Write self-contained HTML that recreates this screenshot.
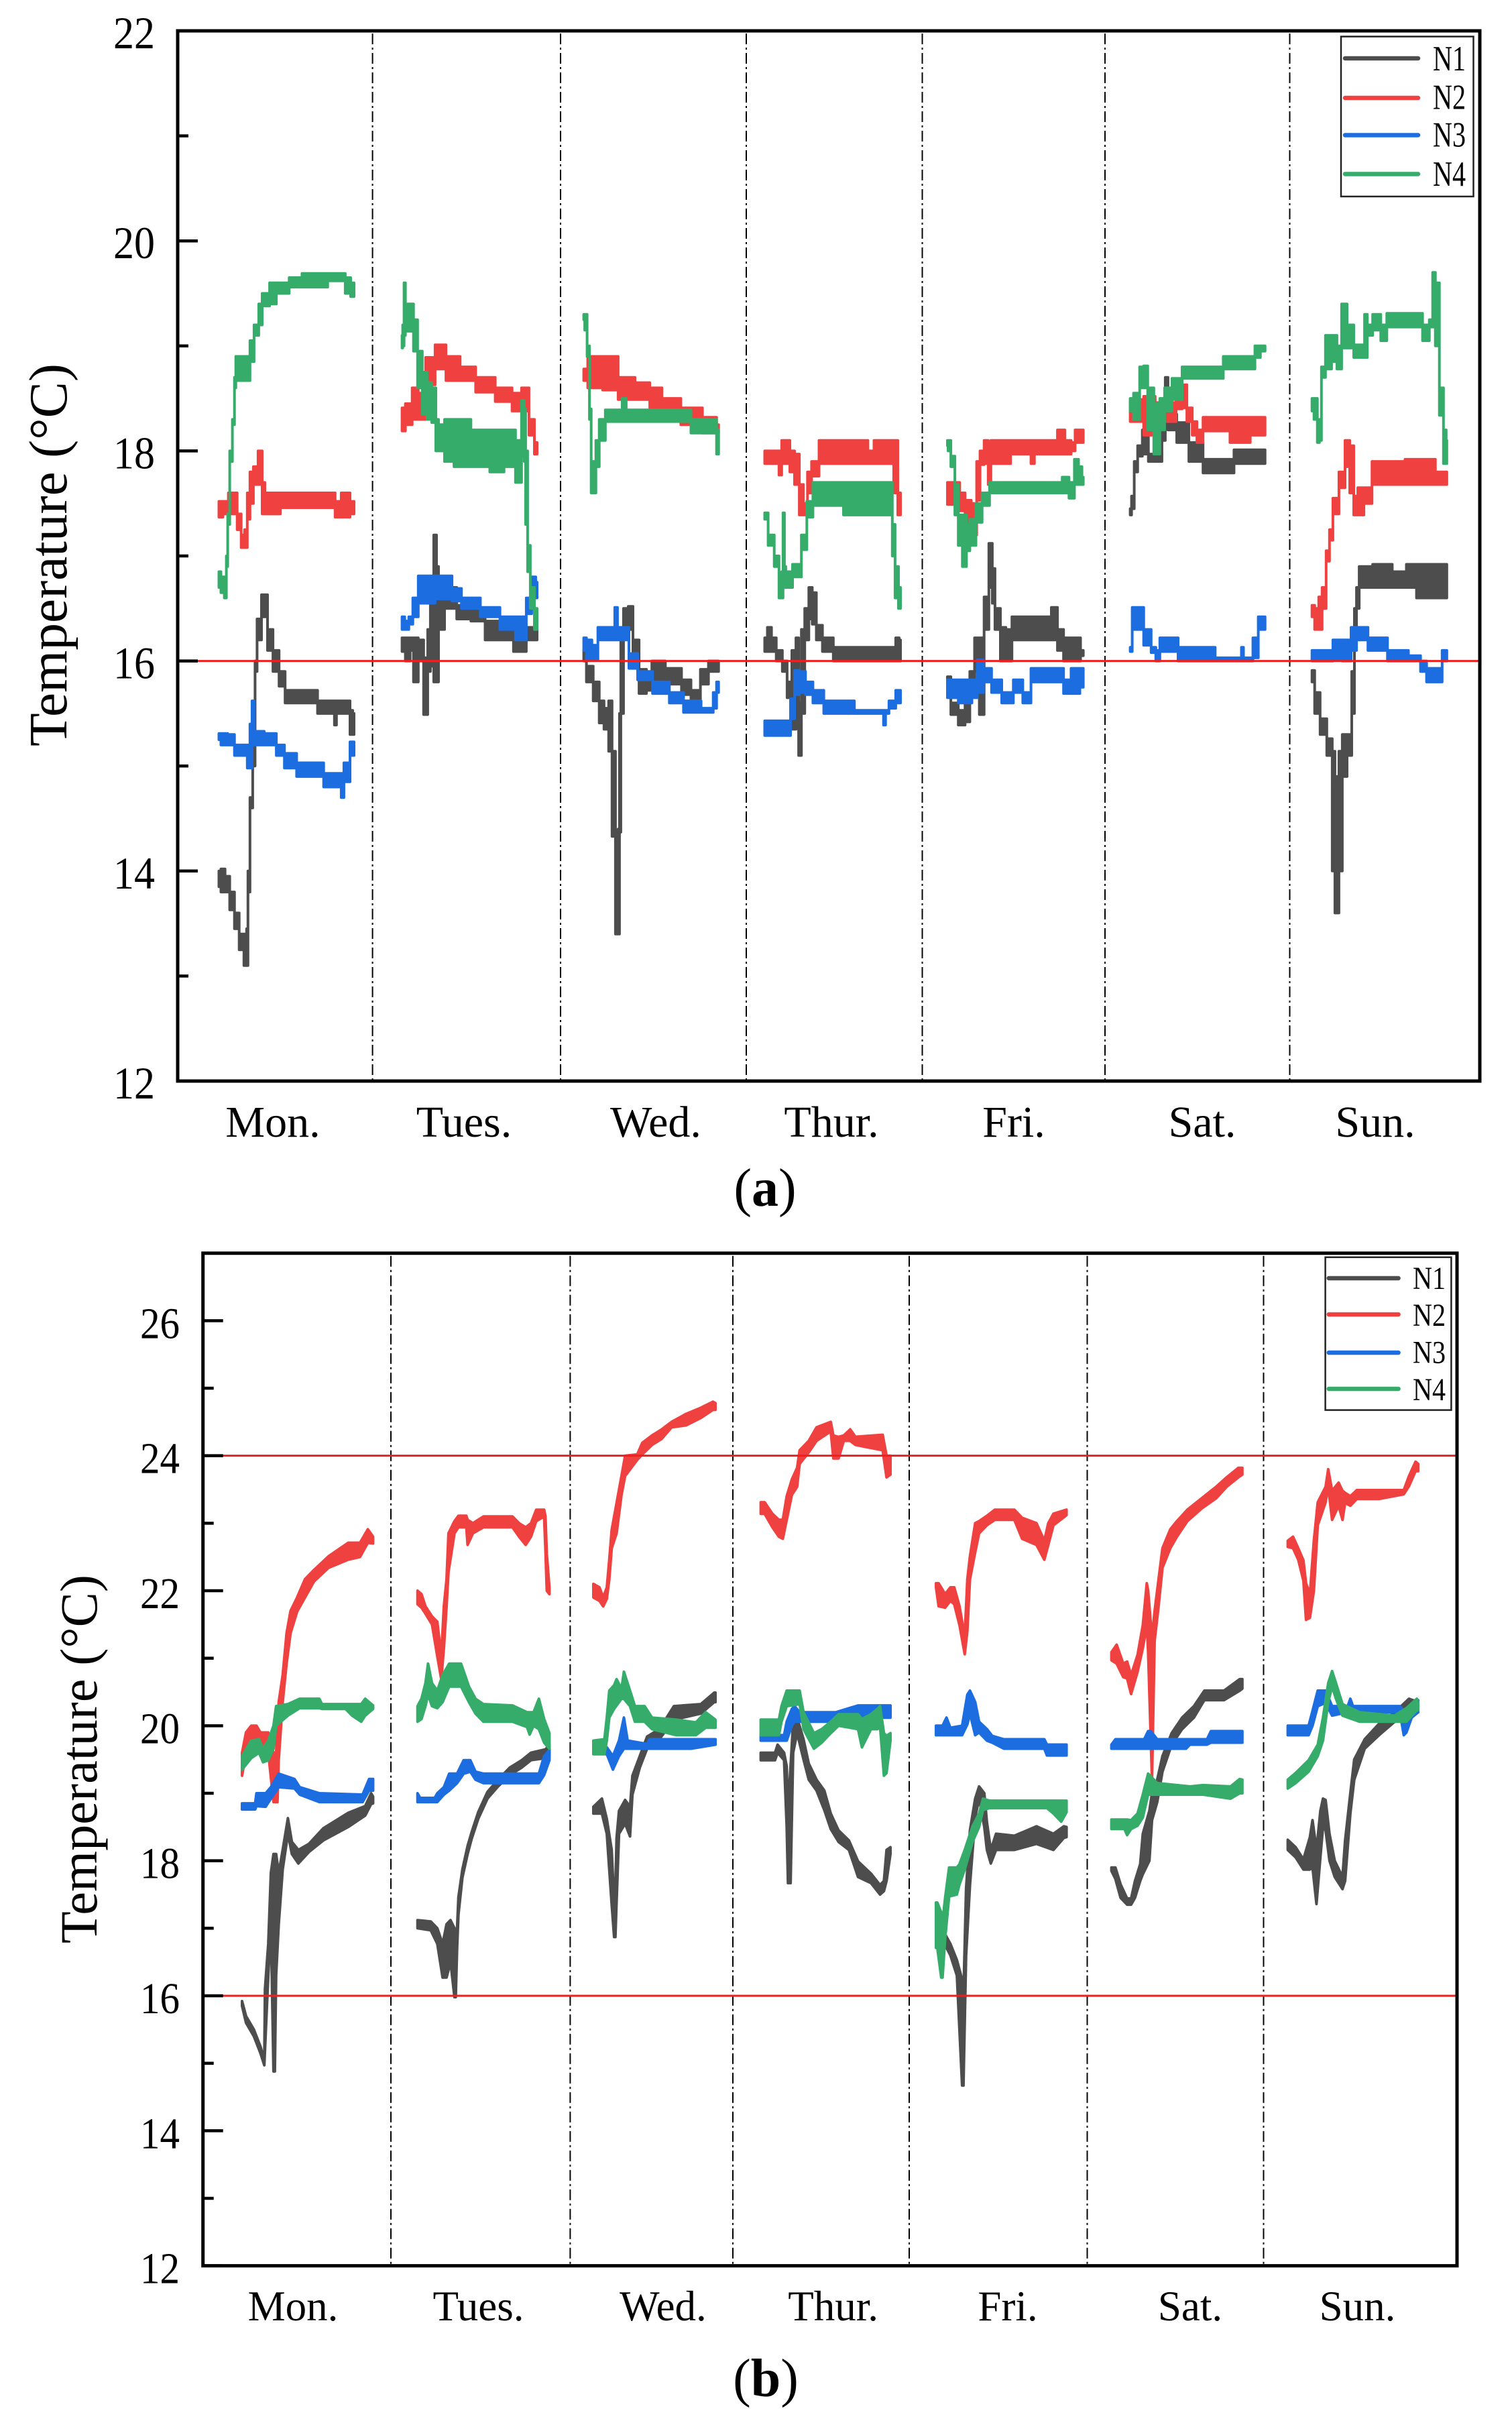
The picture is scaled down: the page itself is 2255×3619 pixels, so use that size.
<!DOCTYPE html>
<html lang="en">
<head>
<meta charset="utf-8">
<title>Temperature by day, panels a and b</title>
<style>
html,body{margin:0;padding:0;background:#fff;}
svg{display:block;font-family:"Liberation Serif",serif;}
</style>
</head>
<body>
<svg id="figure" xmlns="http://www.w3.org/2000/svg" width="2255" height="3619" viewBox="0 0 2255 3619">
  <rect x="0" y="0" width="2255" height="3619" fill="#fff"/>
  <text transform="translate(99,1113) rotate(-90)" font-size="80" textLength="571" lengthAdjust="spacingAndGlyphs" fill="#000">Temperature (°C)</text>
  <text transform="translate(144,2898) rotate(-90)" font-size="78" textLength="550" lengthAdjust="spacingAndGlyphs" fill="#000">Temperature (°C)</text>
  <text x="1141" y="1798" font-size="80" text-anchor="middle" fill="#000">(<tspan font-weight="bold">a</tspan>)</text>
  <text x="1142" y="3573" font-size="80" text-anchor="middle" fill="#000">(<tspan font-weight="bold">b</tspan>)</text>
</svg>
<script>
// Categories and axis ticks
const dayLabels = ["Mon.", "Tues.", "Wed.", "Thur.", "Fri.", "Sat.", "Sun."];
const dayKeys = ["mon", "tue", "wed", "thu", "fri", "sat", "sun"];
const seriesNames = ["N1", "N2", "N3", "N4"];
const panelAMajorTicks = [12, 14, 16, 18, 20, 22];
const panelAMinorTicks = [13, 15, 17, 19, 21];
const panelBMajorTicks = [12, 14, 16, 18, 20, 22, 24, 26];
const panelBMinorTicks = [13, 15, 17, 19, 21, 23, 25];
const panelALimits = [16];
const panelBLimits = [16, 24];

// Each sample: [percent of the day's logging period, lowest °C, highest °C]
const aN1 = [
[[0,13.85,14.0],[3,13.8,14.02],[6,13.8,13.95],[10,13.63,13.8],[13,13.45,13.6],[17,13.25,13.4],[20,13.1,13.4],[21,13.1,13.45],[22,13.8,14],[24,14.6,14.7],[26,15,15.6],[27.5,15.9,16],[29,16.2,16.4],[34,16.42,16.63],[38,16.1,16.3],[42,15.9,16.1],[47,15.76,15.9],[51,15.6,15.72],[72,15.6,15.72],[74,15.5,15.62],[85,15.5,15.62],[86,15.39,15.62],[88,15.5,15.62],[96,15.5,15.62],[98,15.3,15.53],[100,15.3,15.5]],
[[0,16.09,16.22],[5,16.0,16.22],[7,16.1,16.22],[10,15.8,16.22],[14,16,16.2],[18,15.49,16.03],[20,15.9,16.3],[22,15.95,16.75],[25,15.8,17.2],[26,15.8,16.9],[28,16.3,16.7],[35,16.5,16.7],[46,16.4,16.53],[56,16.38,16.5],[67,16.2,16.38],[78,16.2,16.3],[87,16.09,16.22],[90,16.09,16.2],[94,16.2,16.32],[100,16.2,16.32]],
[[0,16,16.1],[4,15.8,15.95],[10,15.62,15.8],[13,15.41,15.62],[17,15.35,15.55],[20,15.14,15.62],[22,14.33,15.14],[25,13.4,14.33],[26,13.4,14.4],[27,14.37,15.5],[28,15.5,16.3],[31,16.3,16.5],[35,16.3,16.52],[38,16,16.2],[44,15.69,15.92],[49,15.72,15.85],[52,15.82,16],[69,15.78,15.93],[76,15.68,15.82],[83,15.6,15.72],[90,15.78,15.92],[95,15.9,16],[100,15.9,16]],
[[0,16.09,16.22],[4,16.09,16.32],[6,16.09,16.22],[11,16,16.1],[15,15.9,16],[18,15.65,15.8],[22,15.35,16.1],[24,15.6,16.22],[26,15.1,15.6],[28,15.5,16.3],[31,16.2,16.5],[34,16.4,16.7],[36,16.35,16.65],[40,16.2,16.34],[45,16.09,16.22],[56,16,16.13],[95,16,16.13],[98,16,16.22],[100,16,16.2]],
[[0,15.7,15.85],[5,15.49,15.6],[11,15.39,15.53],[15,15.42,15.6],[18,15.7,15.9],[22,15.9,16.22],[25,15.49,16.22],[29,16.3,16.61],[32,16.7,17.12],[34,16.55,16.88],[36,16.3,16.5],[42,16,16.32],[44,16,16.3],[51,16.2,16.42],[75,16.2,16.42],[78,16.2,16.51],[84,16.1,16.3],[87,16,16.22],[96,16,16.22],[100,16.05,16.1]],
[[0,17.39,17.45],[2,17.45,17.57],[4,17.8,17.9],[7,17.95,18.05],[11,17.97,18.2],[16,17.9,17.97],[22,17.9,18.2],[25,18.1,18.4],[27,18.27,18.7],[29,18.2,18.5],[31,18.2,18.35],[38,18.08,18.27],[49,17.9,18.08],[59,17.79,17.92],[75,17.79,17.92],[79,17.88,18.01],[100,17.88,18.01]],
[[0,15.8,15.91],[4,15.5,15.7],[8,15.3,15.45],[14,15.1,15.26],[16,14,15.14],[18,13.6,14.8],[19,13.6,14.9],[21,14,15.14],[24,14.9,15.3],[28,15.1,15.3],[31,15.5,15.9],[32,16.3,16.5],[34,16.5,16.7],[36,16.7,16.9],[54,16.7,16.92],[65,16.7,16.85],[75,16.7,16.92],[80,16.6,16.92],[100,16.6,16.92]]
];
const aN2 = [
[[0,17.37,17.52],[6,17.4,17.52],[8,17.4,17.6],[12,17.4,17.6],[15,17.25,17.4],[18,17.08,17.2],[20,17.08,17.25],[22,17.35,17.6],[24,17.5,17.8],[27,17.68,17.85],[31,17.68,18.0],[33,17.4,17.7],[35,17.4,17.6],[44,17.4,17.6],[47,17.46,17.6],[85,17.46,17.6],[87,17.37,17.52],[94,17.37,17.6],[100,17.4,17.52]],
[[0,18.19,18.41],[5,18.25,18.45],[10,18.3,18.6],[14,18.3,18.55],[21,18.63,18.89],[28,18.78,19.01],[37,18.67,18.9],[49,18.67,18.8],[60,18.56,18.7],[78,18.47,18.6],[85,18.38,18.55],[92,18.38,18.6],[96,18.15,18.3],[100,17.97,18.08]],
[[0,18.67,18.78],[6,18.6,18.9],[22,18.58,18.9],[29,18.49,18.7],[47,18.49,18.65],[51,18.41,18.6],[65,18.41,18.5],[79,18.25,18.41],[97,18.17,18.32],[100,18.17,18.25]],
[[0,17.88,18.0],[10,17.88,18],[11,17.77,18],[14,17.88,18.1],[17,17.88,18.1],[20,17.8,18],[24,17.68,17.97],[27,17.39,17.68],[30,17.39,17.5],[33,17.6,17.8],[36,17.76,17.9],[44,17.88,18.1],[75,17.88,18.1],[77,17.88,18],[84,17.88,18.1],[94,17.88,18.1],[96,17.6,18.1],[100,17.39,17.6]],
[[0,17.49,17.7],[7,17.49,17.7],[11,17.43,17.6],[15,17.32,17.53],[20,17.2,17.5],[23,17.53,17.9],[25,17.87,18],[29,17.88,18.1],[31,17.68,18],[33,17.88,18.1],[60,17.97,18.1],[63,17.88,18.1],[65,17.97,18.1],[78,17.97,18.1],[84,17.97,18.2],[89,17.97,18.1],[93,18.0,18.08],[95,18.08,18.2],[100,18.08,18.2]],
[[0,18.28,18.49],[7,18.28,18.49],[13,18.15,18.52],[24,18.28,18.46],[31,18.28,18.46],[37,18.4,18.6],[40,18.41,18.63],[44,18.28,18.41],[48,18.15,18.28],[51,18.08,18.2],[57,18.19,18.32],[70,18.19,18.32],[78,18.08,18.32],[100,18.15,18.32]],
[[0,16.42,16.53],[4,16.3,16.5],[6,16.3,16.61],[9,16.5,16.7],[12,16.95,17.05],[14,17.15,17.25],[17,17.4,17.55],[23,17.65,17.8],[26,17.85,18.1],[30,17.6,18.05],[32,17.39,17.57],[36,17.39,17.65],[41,17.5,17.65],[48,17.68,17.9],[90,17.68,17.92],[93,17.68,17.8],[100,17.68,17.8]]
];
const aN3 = [
[[0,15.25,15.31],[3,15.2,15.31],[10,15.2,15.3],[13,15.1,15.2],[20,15.1,15.2],[22,14.98,15.2],[24,14.98,15.4],[25,15.2,15.62],[27,15.2,15.33],[40,15.2,15.31],[45,15.1,15.2],[52,14.98,15.12],[63,14.9,15.03],[74,14.9,15.03],[81,14.8,14.93],[90,14.8,14.93],[91,14.7,14.93],[94,14.85,15.03],[100,15.1,15.23]],
[[0,16.3,16.42],[4,16.3,16.38],[6,16.35,16.42],[10,16.42,16.6],[14,16.55,16.81],[35,16.59,16.81],[39,16.57,16.69],[49,16.5,16.6],[67,16.42,16.51],[78,16.3,16.42],[90,16.2,16.42],[94,16.45,16.6],[98,16.65,16.8],[100,16.6,16.75]],
[[0,16.1,16.22],[4,16.01,16.2],[8,16.01,16.15],[13,16.2,16.32],[22,16.2,16.32],[24,16.2,16.51],[26,16.2,16.32],[31,16.2,16.32],[36,15.93,16.07],[44,15.82,15.9],[58,15.69,15.8],[69,15.6,15.7],[79,15.51,15.62],[95,15.51,15.55],[97,15.55,15.7],[100,15.7,15.8]],
[[0,15.29,15.43],[18,15.29,15.43],[20,15.45,15.64],[24,15.68,15.91],[27,15.7,15.9],[33,15.68,15.8],[38,15.6,15.72],[49,15.5,15.62],[65,15.5,15.62],[67,15.5,15.53],[87,15.5,15.53],[88,15.39,15.53],[90,15.5,15.53],[93,15.55,15.62],[100,15.6,15.72]],
[[0,15.65,15.82],[16,15.6,15.82],[20,15.65,15.82],[24,15.7,16.01],[29,15.8,15.93],[36,15.7,15.82],[44,15.6,15.7],[53,15.7,15.82],[58,15.6,15.7],[65,15.8,15.93],[84,15.8,15.93],[87,15.69,15.82],[95,15.69,15.93],[100,15.75,15.93]],
[[0,16.09,16.13],[3,16.3,16.51],[7,16.3,16.51],[13,16.15,16.3],[18,16.08,16.13],[20,16,16.1],[24,16.09,16.22],[33,16.09,16.22],[38,16,16.13],[62,16,16.13],[64,16,16.03],[82,16,16.03],[83,16,16.13],[85,16,16.03],[90,16,16.03],[92,16.03,16.22],[98,16.3,16.42],[100,16.3,16.42]],
[[0,16,16.1],[14,16,16.1],[17,16.02,16.2],[28,16,16.2],[30,16.1,16.32],[36,16.2,16.32],[47,16.1,16.22],[65,16,16.1],[78,16,16.05],[83,15.9,16],[87,15.8,15.93],[94,15.8,15.93],[99,16,16.1],[100,16,16.1]]
];
const aN4 = [
[[0,16.7,16.85],[3,16.65,16.8],[5,16.6,16.65],[6,16.9,17],[7,17.3,17.4],[9,17.9,18],[11,18.25,18.3],[12,18.6,18.7],[13,18.67,18.9],[22,18.67,18.9],[24,18.85,19.05],[28,19.1,19.2],[31,19.2,19.4],[33,19.38,19.5],[42,19.4,19.6],[43,19.5,19.6],[61,19.56,19.65],[62,19.56,19.69],[80,19.56,19.69],[81,19.62,19.69],[92,19.62,19.69],[95,19.5,19.65],[100,19.47,19.6]],
[[0,18.98,19.1],[1,19.0,19.2],[2,19.1,19.6],[3,19.15,19.3],[5,19.14,19.4],[7,19.14,19.4],[10,18.95,19.25],[13,18.6,18.95],[17,18.35,18.75],[20,18.3,18.65],[24,18.27,18.6],[26,18.0,18.3],[28,18.0,18.25],[35,17.9,18.3],[42,17.85,18.3],[60,17.85,18.2],[70,17.8,18.2],[81,17.85,18.2],[87,17.7,18.1],[90,17.95,18.48],[91,17.9,18.4],[92,17.3,18],[94,16.85,17.1],[96,16.5,16.7],[100,16.3,16.5]],
[[0,19.25,19.3],[1.5,19.15,19.3],[3.5,18.9,19],[5,18.3,18.4],[6,17.6,17.85],[8,17.6,17.9],[10,17.85,18.1],[13,18.1,18.3],[19,18.28,18.39],[27,18.28,18.39],[30,18.28,18.5],[33,18.28,18.39],[79,18.28,18.39],[80,18.17,18.3],[97,18.17,18.3],[100,17.97,18.2]],
[[0,17.35,17.41],[5,17.1,17.2],[9,16.9,17],[12,16.6,16.8],[13,16.6,16.85],[14,16.7,17.41],[15,16.7,16.9],[16,16.7,16.85],[25,16.8,16.92],[29,17.06,17.2],[33,17.37,17.52],[38,17.48,17.7],[49,17.48,17.7],[67,17.39,17.7],[93,17.39,17.7],[95,17.0,17.3],[97,16.6,16.9],[100,16.5,16.7]],
[[0,18.05,18.1],[1,18.0,18.1],[4,17.85,17.95],[7,17.39,17.68],[9,17.1,17.39],[13,16.9,17.39],[15,17.05,17.3],[18,17.1,17.35],[24,17.32,17.5],[27,17.48,17.6],[35,17.6,17.7],[82,17.6,17.7],[87,17.6,17.75],[92,17.55,17.7],[95,17.68,17.92],[98,17.68,17.85],[100,17.68,17.75]],
[[0,18.38,18.5],[5,18.3,18.55],[9,18.6,18.8],[11,18.6,18.81],[15,18.2,18.6],[20,17.97,18.45],[24,18.2,18.5],[27,18.38,18.6],[35,18.49,18.69],[42,18.69,18.8],[68,18.69,18.8],[70,18.78,18.9],[92,18.78,18.9],[93,18.89,19],[100,18.95,19]],
[[0,18.38,18.5],[3,18.3,18.5],[5,18.08,18.27],[6,18.1,18.3],[8,18.7,18.8],[12,18.78,19.1],[17,18.85,19.1],[20,18.78,19],[24,18.98,19.4],[28,18.98,19.2],[34,18.89,19.01],[38,18.89,19.01],[40,18.89,19.3],[42,19.1,19.2],[48,19.15,19.3],[54,19.05,19.2],[57,19.18,19.31],[79,19.18,19.31],[85,19.05,19.2],[89,19.18,19.25],[90,19.18,19.7],[93,19.0,19.6],[96,18.34,18.6],[99,17.88,18.2],[100,17.88,18.1]]
];
const bN1 = [
[[0,15.85,15.92],[3,15.6,15.7],[9,15.4,15.5],[14,15.15,15.25],[17,14.97,15.05],[17.5,15.2,16.1],[20,16.3,16.77],[22,17.06,17.82],[24,14.88,18.1],[25,14.88,18.1],[26,16.3,18.1],[28,17.06,17.82],[31,17.87,18.16],[35,18.4,18.63],[38,18.1,18.28],[43,17.96,18.16],[51,18.13,18.25],[62,18.3,18.48],[81,18.5,18.71],[94,18.67,18.81],[98.5,18.84,19],[100,18.85,18.95]],
[[0,17,17.12],[10,16.97,17.1],[15,16.77,17],[19,16.27,16.77],[22,16.27,17.06],[25,16.5,17.12],[28,15.98,17],[29,15.98,16.8],[30,16.7,17],[31,17.2,17.46],[34,17.75,17.87],[38,18.1,18.22],[41,18.32,18.42],[46,18.62,18.72],[53,18.92,19.02],[61,19.1,19.2],[70,19.27,19.38],[79,19.38,19.49],[86,19.49,19.6],[97,19.52,19.65],[100,19.55,19.72]],
[[0,18.7,18.8],[7,18.7,18.92],[11,18.4,18.62],[15,17.35,18.16],[17,16.87,17.35],[18,16.87,17.6],[19,17.4,18.34],[21,18.4,18.74],[26,18.55,18.9],[30,18.36,18.8],[32,18.98,19.26],[38,19.38,19.55],[44,19.66,19.84],[54,19.8,19.95],[66,20.09,20.29],[88,20.18,20.32],[99,20.35,20.49],[100,20.35,20.49]],
[[0,19.49,19.6],[11,19.49,19.6],[13,19.6,19.72],[18,19.49,19.6],[20,18.5,19.4],[21,17.67,18.74],[23,17.67,19.4],[25,19.6,20.06],[28,19.89,20.12],[33,19.5,19.8],[37,19.2,19.44],[43,19.04,19.2],[49,18.75,19.04],[54,18.47,18.7],[60,18.28,18.45],[68,18.16,18.3],[75,17.76,17.99],[85,17.67,17.81],[92,17.5,17.64],[95,17.55,17.7],[97,17.7,18.16],[100,18.1,18.2]],
[[0,16.77,16.91],[7,16.75,16.91],[11,16.6,16.77],[16,16.3,16.53],[20,14.67,16.24],[21,14.67,16.0],[23,16.59,17.58],[26,17.64,18.45],[30,18.64,18.92],[33,18.92,19.1],[37,18.5,19.0],[39,18.16,18.57],[42,17.96,18.16],[46,18.16,18.4],[60,18.16,18.37],[77,18.25,18.51],[90,18.16,18.4],[98,18.34,18.51],[100,18.35,18.5]],
[[0,17.85,17.9],[3,17.73,17.9],[7,17.45,17.65],[12,17.35,17.44],[15,17.35,17.44],[18,17.45,17.7],[22,17.7,17.95],[24,17.8,18.4],[29,18,18.74],[31,18.6,19],[35,18.87,19.2],[39,19.32,19.55],[46,19.72,19.89],[54,19.95,20.12],[63,20.12,20.29],[71,20.38,20.52],[86,20.38,20.52],[98,20.52,20.69],[100,20.55,20.69]],
[[0,18.16,18.31],[6,18.05,18.2],[12,17.87,18.02],[17,17.87,18.35],[19,17.9,18.6],[22,17.36,18.16],[25,18.05,18.74],[27,18.5,18.92],[29,18.45,18.9],[32,18.0,18.4],[36,17.76,18.0],[42,17.58,17.76],[44,17.7,18.3],[48,18.7,19.0],[51,19.2,19.5],[59,19.66,19.8],[70,19.86,20.03],[82,20.06,20.2],[93,20.12,20.4],[100,20.2,20.35]]
];
const bN2 = [
[[0,19.26,19.6],[3,19.6,19.9],[7,19.72,20],[11,19.72,20],[14,19.66,19.9],[20,19.6,19.9],[24,18.87,19.6],[26,18.87,19.6],[27,18.87,20.0],[28,19.5,20.35],[31,20.35,20.75],[34,20.92,21.37],[37,21.37,21.7],[42,21.69,21.9],[48,21.9,22.17],[55,22.14,22.31],[66,22.34,22.51],[81,22.46,22.71],[90,22.5,22.71],[96,22.71,22.91],[100,22.7,22.8]],
[[0,21.8,22],[3,21.75,21.95],[6,21.66,21.77],[11,21.5,21.62],[15,21.03,21.54],[18,20.69,21.03],[20,21.15,21.77],[22,21.77,22.17],[23.5,22.28,22.85],[28,22.85,23.03],[31,22.94,23.11],[37,22.94,23.11],[38,22.68,23.05],[42,22.85,23],[50,22.94,23.1],[72,22.94,23.1],[77,22.8,23],[82,22.68,22.94],[86,22.8,23],[90,23.03,23.2],[96,23.1,23.2],[97,22.6,23.1],[98,22,22.54],[100,21.95,22.05]],
[[0,21.9,22.1],[5,21.85,22.05],[8,21.77,21.9],[11,21.88,22.05],[13,22.17,22.46],[15,22.63,22.9],[19,22.85,23.3],[23,23.42,23.7],[26,23.7,24],[36,23.94,24.02],[40,24.02,24.19],[48,24.16,24.3],[56,24.25,24.39],[64,24.42,24.5],[76,24.45,24.62],[88,24.56,24.71],[98,24.68,24.8],[100,24.68,24.78]],
[[0,23.14,23.31],[3,23.14,23.31],[9,22.94,23.14],[14,22.8,23.05],[17,22.77,23.05],[20,23.05,23.4],[24,23.42,23.65],[28,23.54,23.82],[30,23.88,24.08],[37,24.05,24.22],[43,24.22,24.42],[54,24.36,24.5],[56,23.96,24.3],[60,23.96,24.28],[64,24.22,24.3],[69,24.22,24.39],[73,24.16,24.28],[94,24.08,24.31],[97,23.68,24],[100,23.72,24]],
[[0,22.05,22.11],[2,21.77,22.11],[7,21.75,21.95],[11,21.85,22.05],[14,21.8,22.05],[18,21.49,21.77],[22,21.06,21.32],[24,21.4,22.17],[26,22.17,22.51],[30,22.57,23],[33,22.85,23.03],[39,22.97,23.11],[45,23.05,23.2],[60,23.05,23.2],[66,22.77,23.08],[77,22.68,23],[83,22.46,22.74],[86,22.68,23],[90,22.97,23.14],[100,23.12,23.2]],
[[0,20.97,21.09],[4,20.92,21.2],[9,20.72,20.92],[12,20.7,20.95],[15,20.47,20.75],[20,20.8,21.05],[24,21.15,21.49],[27,21.49,22.11],[28,21.1,22.0],[31,19.2,21.3],[33,21.26,21.7],[36,21.77,22.17],[39,22.34,22.63],[45,22.63,22.91],[50,22.8,23.03],[58,23.03,23.2],[69,23.22,23.37],[80,23.37,23.54],[88,23.54,23.68],[97,23.68,23.82],[100,23.72,23.82]],
[[0,22.65,22.74],[4,22.63,22.8],[8,22.46,22.63],[12,22.15,22.45],[14,21.57,22.11],[17,21.6,21.95],[20,22,22.74],[23,22.97,23.31],[29,23.31,23.54],[31,23.54,23.8],[34,23.05,23.48],[39,23.26,23.6],[42,23.05,23.48],[44,23.3,23.45],[48,23.26,23.4],[53,23.36,23.49],[70,23.36,23.49],[89,23.43,23.49],[93,23.55,23.7],[98,23.77,23.91],[100,23.77,23.88]]
];
const bN3 = [
[[0,18.76,18.85],[10,18.76,18.85],[11,18.81,19],[18,18.8,19],[22,18.92,19.09],[28,19.09,19.29],[40,19.07,19.21],[44,18.98,19.09],[59,18.87,19],[92,18.87,18.98],[97,19.04,19.21],[100,19.04,19.21]],
[[0,18.87,19],[2,18.87,18.93],[13,18.87,18.93],[15,18.87,19],[20,18.98,19.09],[24,19.04,19.29],[30,19.15,19.29],[35,19.29,19.49],[40,19.32,19.49],[44,19.2,19.32],[50,19.15,19.29],[92,19.15,19.29],[96,19.27,19.55],[100,19.49,19.64]],
[[0,19.58,19.68],[11,19.58,19.68],[16,19.35,19.55],[21,19.55,19.78],[25,19.66,20.12],[28,19.66,19.78],[44,19.66,19.73],[46,19.66,19.8],[80,19.66,19.8],[100,19.72,19.8]],
[[0,19.78,19.86],[18,19.78,19.86],[20,19.78,20.06],[24,20.0,20.25],[26,20.06,20.29],[30,20.06,20.2],[54,20.06,20.2],[58,20.12,20.2],[75,20.12,20.3],[100,20.12,20.3]],
[[0,19.86,20],[5,19.86,20],[8,19.86,20.12],[11,19.86,19.97],[20,19.86,20],[24,20.02,20.46],[26,20.18,20.52],[30,19.86,20.35],[33,19.9,20.06],[39,19.78,19.95],[43,19.75,19.85],[52,19.66,19.8],[83,19.66,19.8],[85,19.56,19.72],[100,19.56,19.72]],
[[0,19.66,19.72],[3,19.66,19.8],[25,19.66,19.8],[28,19.66,19.92],[30,19.66,19.92],[35,19.66,19.8],[57,19.66,19.8],[60,19.72,19.8],[73,19.72,19.8],[76,19.75,19.92],[100,19.75,19.92]],
[[0,19.86,20],[16,19.86,20],[19,20,20.22],[23,20.29,20.52],[29,20.34,20.52],[34,20.15,20.29],[46,20.2,20.29],[48,20.2,20.4],[50,20.2,20.29],[86,20.2,20.29],[89,19.86,20.22],[91,19.9,20.2],[95,20.12,20.29],[100,20.2,20.38]]
];
const bN4 = [
[[0,19.35,19.55],[7,19.52,19.78],[13,19.6,19.8],[16,19.46,19.66],[20,19.49,19.78],[24,19.66,20],[26,20,20.29],[35,20.15,20.32],[44,20.26,20.4],[59,20.26,20.4],[61,20.25,20.32],[79,20.25,20.32],[84,20.15,20.32],[91,20.06,20.32],[94,20.15,20.4],[100,20.25,20.3]],
[[0,20.06,20.29],[3,20.1,20.4],[6,20.29,20.63],[8,20.46,20.92],[11,20.29,20.63],[15,20.26,20.52],[19,20.35,20.75],[24,20.58,20.92],[33,20.58,20.92],[39,20.35,20.58],[44,20.18,20.4],[50,20.06,20.32],[72,20.06,20.3],[83,19.98,20.2],[85,19.87,20.2],[88,20,20.2],[92,19.95,20.4],[96,19.75,20.1],[100,19.66,19.89]],
[[0,19.58,19.78],[9,19.58,19.8],[11,19.78,20.12],[13,20.12,20.52],[17,20.25,20.6],[19,20.3,20.69],[23,20.4,20.55],[25,20.4,20.8],[30,20.29,20.52],[34,20.06,20.29],[42,20.06,20.29],[48,19.95,20.12],[68,19.86,20.09],[84,19.86,20.05],[92,19.97,20.2],[100,19.97,20.09]],
[[0,19.86,20.09],[14,19.86,20.09],[16,20.06,20.29],[20,20.29,20.52],[30,20.32,20.52],[33,19.95,20.2],[41,19.66,19.89],[47,19.75,19.95],[54,19.89,20.06],[60,20,20.17],[75,19.95,20.17],[78,19.68,20.1],[85,19.95,20.17],[90,19.95,20.25],[92,20,20.29],[95,19.26,19.89],[97,19.3,19.85],[100,19.78,19.89]],
[[0,16.71,17.38],[1,16.71,17.38],[4,16.27,17.23],[5,16.27,17.1],[7,16.85,17.45],[10,17.47,17.9],[16,17.5,17.9],[18,17.65,17.95],[22,17.87,18.16],[28,18.28,18.51],[33,18.5,18.7],[36,18.75,18.92],[41,18.78,18.89],[85,18.78,18.89],[90,18.7,18.89],[96,18.58,18.89],[100,18.72,18.89]],
[[0,18.47,18.61],[10,18.47,18.61],[12,18.38,18.61],[15,18.47,18.6],[20,18.52,18.7],[24,18.64,18.98],[28,18.98,19.29],[35,18.98,19.15],[60,18.98,19.1],[70,18.98,19.12],[91,18.92,19.1],[98,19,19.21],[100,19,19.2]],
[[0,19.07,19.2],[6,19.15,19.3],[16,19.32,19.49],[23,19.55,19.72],[27,19.78,20.12],[31,20.35,20.63],[34,20.58,20.81],[37,20.4,20.63],[42,20.15,20.32],[55,20.06,20.2],[82,20.06,20.15],[91,20.06,20.26],[99,20.23,20.4],[100,20.23,20.35]]
];

const seriesColors = { N1: "#4d4d4d", N2: "#f04141", N3: "#1b6de0", N4: "#36ac6b" };
const svgNS = "http://www.w3.org/2000/svg";
const svg = document.getElementById("figure");

function make(tag, parent, geometry) {
  const el = document.createElementNS(svgNS, tag);
  for (const key in geometry) el.setAttribute(key, geometry[key]);
  parent.appendChild(el);
  return el;
}

// Outline of one band edge; stepped edges hold each reading until halfway to the next.
function edge(samples, index, day, xAt, yAt, stepped) {
  const out = [];
  samples.forEach((v, i) => {
    const y = yAt(v[index]).toFixed(1);
    if (stepped) {
      const before = i > 0 ? (samples[i - 1][0] + v[0]) / 2 : v[0];
      const after = i < samples.length - 1 ? (v[0] + samples[i + 1][0]) / 2 : v[0];
      out.push(xAt(day, before).toFixed(1) + "," + y);
      out.push(xAt(day, after).toFixed(1) + "," + y);
    } else {
      out.push(xAt(day, v[0]).toFixed(1) + "," + y);
    }
  });
  return out;
}

function drawPanel(p) {
  const xAt = (day, pct) => p.traceStart[day] + (p.traceEnd[day] - p.traceStart[day]) * pct / 100;
  const yAt = (t) => p.bottom - (t - p.yMin) * (p.bottom - p.top) / (p.yMax - p.yMin);

  const group = make("g", svg, {});
  
  

  // day separators
  p.separators.forEach((sx, i) => {
    const sep = make("line", group, { x1: sx, x2: sx, y1: p.top + 4, y2: p.bottom, stroke: "#000", "stroke-width": 2, "stroke-dasharray": "16 5 3 5" });
    
    
  });

  // series traces
  p.series.forEach((days, s) => {
    const name = seriesNames[s];
    days.forEach((samples, d) => {
      const upper = edge(samples, 2, d, xAt, yAt, p.stepped);
      const lower = edge(samples, 1, d, xAt, yAt, p.stepped).reverse();
      const trace = make("path", group, {
        d: "M" + upper.join("L") + "L" + lower.join("L") + "Z",
        fill: seriesColors[name], stroke: seriesColors[name], "stroke-width": 4, "stroke-linejoin": "round"
      });
      
      
    });
  });

  // limit lines
  p.limits.forEach(v => {
    const limit = make("line", group, { x1: p.left, x2: p.right, y1: yAt(v), y2: yAt(v), stroke: "#f01f1f", "stroke-width": 3 });
    
    
  });

  // frame
  const frame = make("rect", group, { x: p.left, y: p.top, width: p.right - p.left, height: p.bottom - p.top, fill: "none", stroke: "#000", "stroke-width": 5 });
  
  

  // y ticks
  p.majorTicks.forEach(v => {
    const tick = make("line", group, { x1: p.left, x2: p.left + 30, y1: yAt(v), y2: yAt(v), stroke: "#000", "stroke-width": 4.5 });
    
    
    const label = make("text", group, { x: p.tickLabelRight, y: yAt(v) + 26, "text-anchor": "end", "font-size": p.tickFont, textLength: p.tickWidth, lengthAdjust: "spacingAndGlyphs", fill: "#000" });
    label.textContent = String(v);
    
    
  });
  p.minorTicks.forEach(v => {
    const tick = make("line", group, { x1: p.left, x2: p.left + 16, y1: yAt(v), y2: yAt(v), stroke: "#000", "stroke-width": 4.5 });
    
    
  });

  // x labels
  dayLabels.forEach((txt, i) => {
    const label = make("text", group, { x: p.labelCenters[i], y: p.labelBaseline, "text-anchor": "middle", "font-size": p.labelFont, fill: "#000" });
    label.textContent = txt;
    
    
  });

  // legend
  const legend = make("g", group, {});
  
  
  const box = make("rect", legend, { x: p.legend.x, y: p.legend.y, width: p.legend.w, height: p.legend.h, fill: "#fff", stroke: "#222", "stroke-width": 2.5 });
  
  
  seriesNames.forEach((name, i) => {
    const swatch = make("line", legend, { x1: p.legend.lineX1, x2: p.legend.lineX2, y1: p.legend.lineY[i], y2: p.legend.lineY[i], stroke: seriesColors[name], "stroke-width": 6.5, "stroke-linecap": "round" });
    
    
    const entry = make("text", legend, { x: p.legend.textX, y: p.legend.textY[i], "font-size": p.legend.font, textLength: p.legend.textW, lengthAdjust: "spacingAndGlyphs", fill: "#000" });
    entry.textContent = name;
    
    
  });
}

drawPanel({
  id: "panel-a", stepped: true,
  left: 265, right: 2207, top: 46, bottom: 1612, yMin: 12, yMax: 22,
  separators: [555.6, 836, 1113, 1375.5, 1648, 1923.5],
  traceStart: [326.5, 599.6, 870.6, 1140.5, 1413, 1685.6, 1956.7],
  traceEnd: [528, 801, 1071.7, 1343, 1615.6, 1886.7, 2157.8],
  series: [aN1, aN2, aN3, aN4],
  limits: panelALimits,
  majorTicks: panelAMajorTicks, minorTicks: panelAMinorTicks,
  tickLabelRight: 231, tickFont: 68, tickWidth: 62,
  labelCenters: [407, 692, 978, 1240, 1512, 1793, 2051], labelBaseline: 1695, labelFont: 66,
  legend: { x: 2000, y: 54.5, w: 197.5, h: 238.5, lineX1: 2006, lineX2: 2115, lineY: [87, 146, 201.5, 259.5], textX: 2137, textY: [105, 162.4, 218.7, 277], font: 53, textW: 49 }
});

drawPanel({
  id: "panel-b", stepped: false,
  left: 302.7, right: 2173, top: 1868.7, bottom: 3378.6, yMin: 12, yMax: 27,
  separators: [583, 850.4, 1093, 1356, 1621.5, 1884.5],
  traceStart: [361, 622.7, 885, 1134.6, 1396, 1657.6, 1920.6],
  traceEnd: [556.4, 819.4, 1067, 1328, 1590.6, 1852.8, 2115],
  series: [bN1, bN2, bN3, bN4],
  limits: panelBLimits,
  majorTicks: panelBMajorTicks, minorTicks: panelBMinorTicks,
  tickLabelRight: 268, tickFont: 66, tickWidth: 59,
  labelCenters: [437, 713.5, 989, 1242.6, 1503, 1775, 2024.5], labelBaseline: 3460, labelFont: 63,
  legend: { x: 1976.6, y: 1874.7, w: 187.8, h: 227.9, lineX1: 1981.7, lineX2: 2085.6, lineY: [1906, 1960, 2017, 2071], textX: 2107, textY: [1922, 1977, 2032.5, 2088], font: 48, textW: 49 }
});
</script>
</body>
</html>
